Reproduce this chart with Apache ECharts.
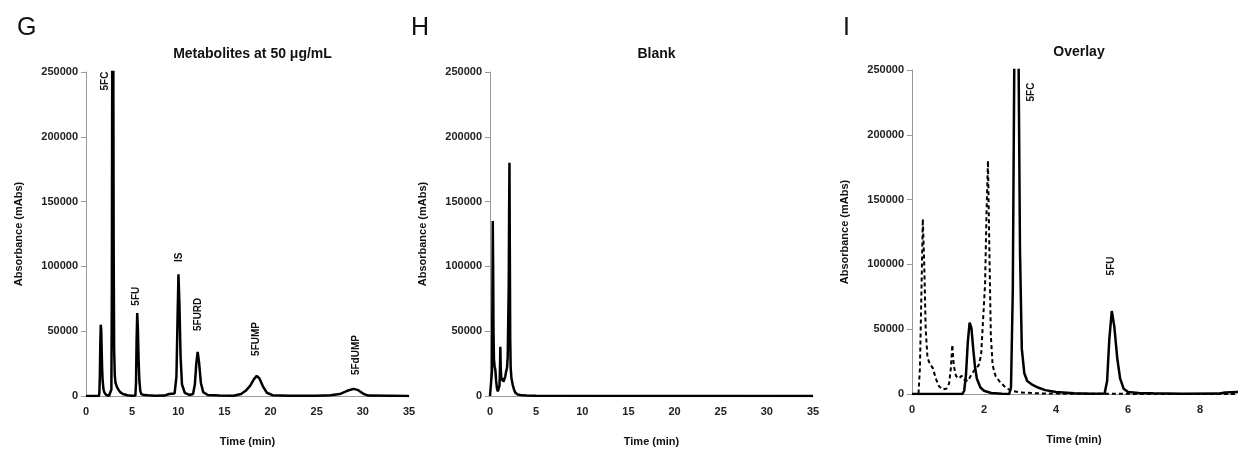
<!DOCTYPE html>
<html><head><meta charset="utf-8">
<script src="https://cdn.jsdelivr.net/npm/echarts@6/dist/echarts.min.js"></script>
<style>html,body{margin:0;padding:0;background:#fff}#c{width:1243px;height:453px}</style>
</head><body><div id="c"></div>
<script>
// Metabolites chromatogram: [time (min), absorbance]
const metabolites = [
 [0,0],[1.40,0],[1.45,2500],[1.50,15000],[1.55,40000],[1.60,55000],[1.65,51000],[1.70,35000],[1.75,21000],[1.80,12000],
 [1.90,5000],[2.00,2500],[2.20,800],[2.50,200],[2.70,0],[2.75,5000],[2.80,80000],[2.84,250000],[2.90,330000],[2.96,260000],
 [3.00,110000],[3.05,35000],[3.12,16000],[3.20,10000],[3.35,7000],[3.50,5000],[3.70,3000],[4.00,1500],[4.50,600],[5.00,200],
 [5.35,300],[5.42,10000],[5.48,42000],[5.55,64000],[5.62,52000],[5.70,28000],[5.78,12000],[5.88,4000],[6.00,1500],[6.30,700],
 [6.70,500],[7.50,200],[8.50,300],[8.70,1200],[9.00,1500],[9.30,1800],[9.60,2000],[9.80,15000],[9.92,60000],[10.02,94000],
 [10.12,72000],[10.25,30000],[10.40,9000],[10.70,2500],[11.20,800],[11.60,1500],[11.80,9000],[11.95,25000],[12.10,34000],
 [12.25,26000],[12.45,10000],[12.70,3000],[13.20,800],[14.5,300],[16.0,200],[16.8,1500],[17.3,4000],[17.8,8000],[18.2,13000],
 [18.5,15500],[18.8,13500],[19.2,7000],[19.6,2500],[20.2,600],[22,200],[25,200],[26.5,500],[27.5,1500],[28.3,4000],[29,5500],
 [29.5,4500],[30.1,1500],[30.6,300],[35,0]
];
// Blank chromatogram
const blank = [
 [0,0],[0.18,0],[0.22,20000],[0.27,90000],[0.30,135000],[0.34,100000],[0.38,50000],[0.43,28000],[0.50,23000],[0.58,20000],
 [0.66,12000],[0.75,6000],[0.85,3500],[0.95,4000],[1.03,8000],[1.08,20000],[1.12,38000],[1.16,22000],[1.22,14000],[1.30,12000],
 [1.38,14000],[1.45,11000],[1.55,10000],[1.65,15000],[1.75,19000],[1.85,22000],[1.92,30000],[1.98,60000],[2.03,85000],
 [2.07,140000],[2.11,180000],[2.15,110000],[2.19,45000],[2.24,22000],[2.32,14000],[2.45,9000],[2.60,5000],[2.75,2500],
 [3.0,1200],[3.5,500],[4.0,300],[5,100],[35,0]
];
// Peak annotations [label, time, absorbance]
const peakLabelsG = [['5FC',2.06,243000],['5FU',5.42,77000],['IS',10.08,107000],['5FURD',12.13,63000],['5FUMP',18.4,44000],['5FdUMP',29.25,31600]];
const peakLabelsI = [['5FC',3.30,233000],['5FU',5.53,98800]];
const panelTitles = ['Metabolites at 50 \u03bcg/mL','Blank','Overlay'];
const panelLetters = ['G','H','I'];
const xMax = [35,35,9];
const xInterval = [5,5,2];

const FONT = '"Liberation Sans", Arial, sans-serif';
const grids = [
  {left:86, top:72, width:323, height:324},
  {left:490, top:72, width:323, height:324},
  {left:912, top:70, width:324, height:324}
];
const letterPos = [[12,11],[406,11],[838,11]];

function mk(labels){
  return {
    symbol:'rect', symbolSize:[1,1], itemStyle:{color:'rgba(0,0,0,0)'},
    label:{show:true, position:'inside', rotate:90, formatter:p=>p.name, color:'#111',
      fontFamily:FONT, fontWeight:'bold', fontSize:10},
    data: labels.map(l=>({name:l[0], coord:[l[1],l[2]]}))
  };
}

const titles = [];
grids.forEach((g,i)=>{
  titles.push({text:panelTitles[i], left:g.left+g.width/2, top:g.top-30, textAlign:'center',
    textStyle:{fontFamily:FONT, fontWeight:'bold', fontSize:14, color:'#111'}});
  titles.push({text:panelLetters[i], left:letterPos[i][0], top:letterPos[i][1],
    textStyle:{fontFamily:FONT, fontWeight:'normal', fontSize:25, color:'#111'}});
});

const xAxes = grids.map((g,i)=>({
  type:'value', gridIndex:i, min:0, max:xMax[i], interval:xInterval[i],
  name:'Time (min)', nameLocation:'middle', nameGap:40,
  nameTextStyle:{fontFamily:FONT, fontWeight:'bold', fontSize:11, color:'#111'},
  axisLine:{show:true, lineStyle:{color:'#999', width:1}}, axisTick:{show:false},
  splitLine:{show:false},
  axisLabel:{fontFamily:FONT, fontWeight:'bold', fontSize:11, color:'#222', margin:10,
    showMaxLabel: i < 2, formatter:v=>String(v)}
}));
const yAxes = grids.map((g,i)=>({
  type:'value', gridIndex:i, min:0, max:250000, interval:50000,
  name:'Absorbance (mAbs)', nameLocation:'middle', nameGap:62,
  nameTextStyle:{fontFamily:FONT, fontWeight:'bold', fontSize:11, color:'#111'},
  axisLine:{show:true, lineStyle:{color:'#999', width:1}},
  axisTick:{show:true, length:5, lineStyle:{color:'#999'}},
  splitLine:{show:false},
  axisLabel:{fontFamily:FONT, fontWeight:'bold', fontSize:11, color:'#222', margin:8, formatter:v=>String(v)}
}));

const solid = {color:'#000', width:2.5};
const series = [
  {type:'line', xAxisIndex:0, yAxisIndex:0, data:metabolites, showSymbol:false, symbol:'none', lineStyle:solid, markPoint:mk(peakLabelsG)},
  {type:'line', xAxisIndex:1, yAxisIndex:1, data:blank, showSymbol:false, symbol:'none', lineStyle:solid},
  {type:'line', xAxisIndex:2, yAxisIndex:2, data:blank, showSymbol:false, symbol:'none', lineStyle:{color:'#000', width:2, type:[4,3]}},
  {type:'line', xAxisIndex:2, yAxisIndex:2, data:metabolites, showSymbol:false, symbol:'none', lineStyle:solid, markPoint:mk(peakLabelsI)}
];

const chart = echarts.init(document.getElementById('c'), null, {renderer:'canvas'});
chart.setOption({animation:false, backgroundColor:'#fff', title:titles, grid:grids, xAxis:xAxes, yAxis:yAxes, series:series});
</script></body></html>
